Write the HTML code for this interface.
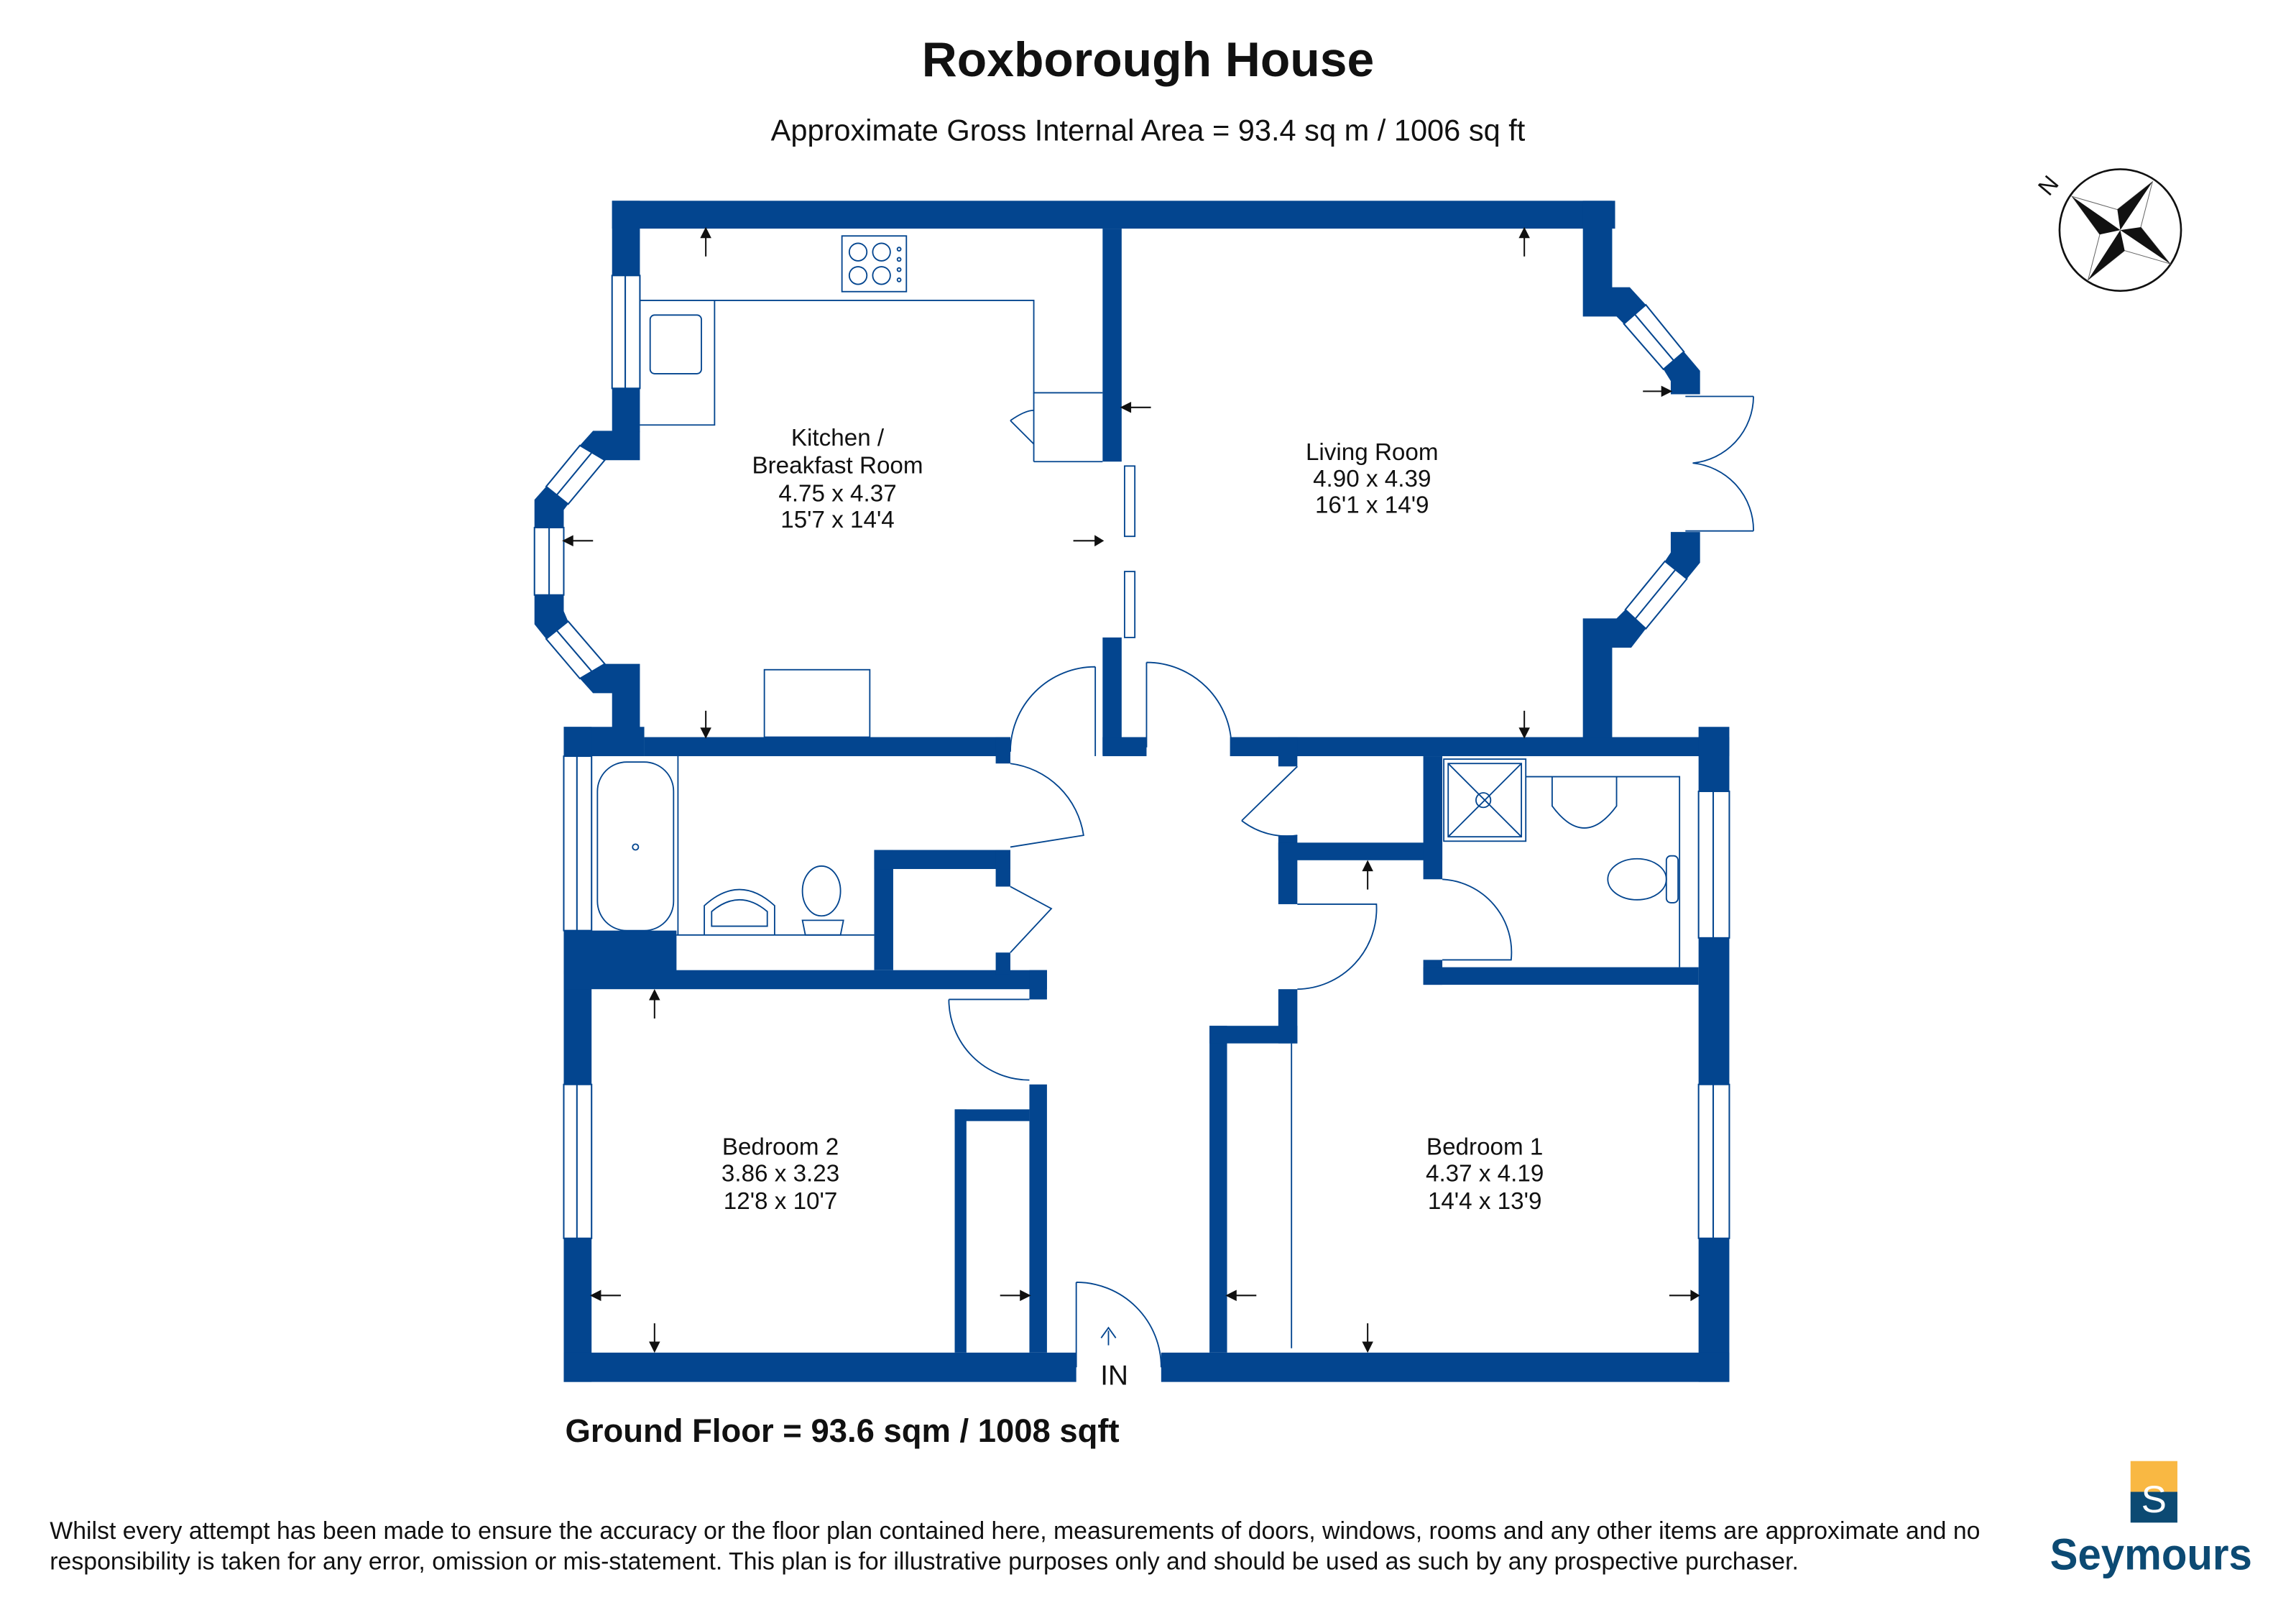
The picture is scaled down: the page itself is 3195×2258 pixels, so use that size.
<!DOCTYPE html>
<html><head><meta charset="utf-8"><style>
html,body{margin:0;padding:0;background:#fff;}
svg{display:block;}
text{font-family:"Liberation Sans",Arial,sans-serif;fill:#111;}
</style></head><body>
<svg width="3195" height="2258" viewBox="0 0 1568 1107.5" preserveAspectRatio="none" xmlns="http://www.w3.org/2000/svg">
<rect width="1568" height="1108" fill="#fff"/>
<text x="784" y="52" font-size="33.3" font-weight="bold" text-anchor="middle">Roxborough House</text>
<text x="784" y="96" font-size="20.4" text-anchor="middle">Approximate Gross Internal Area = 93.4 sq m / 1006 sq ft</text>

<!-- compass -->
<g transform="translate(1448,157)">
<circle r="41.5" fill="#fff" stroke="#111" stroke-width="1.3"/>
<polygon points="-33,-23 -2,-14 22,-33 14,-2 34,23 3,14 -22,34 -14,3" fill="#fff" stroke="#666" stroke-width="0.5"/>
<polygon points="0,0 -33,-23 -14,3" fill="#111"/>
<polygon points="0,0 22,-33 -2,-14" fill="#111"/>
<polygon points="0,0 34,23 14,-2" fill="#111"/>
<polygon points="0,0 -22,34 3,14" fill="#111"/>
<text x="-45" y="-27" font-size="16" font-family="Liberation Serif" text-anchor="middle" transform="rotate(-50 -45 -27)">N</text>
</g>

<g fill="#03458f">
<rect x="418" y="137" width="685" height="19"/>
<rect x="418" y="137" width="19" height="51"/>
<rect x="418" y="265" width="19" height="30"/>
<polygon points="396,304 405,294 437,294 437,314 413,314"/>
<polygon points="365,341 373,332 388,344 385,348 385,360 365,360"/>
<polygon points="365,406 385,406 385,417 388,424 373,436 365,426"/>
<polygon points="396,463 405,473 418,473 418,505 437,505 437,453 413,453"/>
<rect x="753" y="156" width="13" height="159"/>
<rect x="753" y="435" width="13" height="80"/>
<rect x="753" y="503" width="30" height="13"/>
<polygon points="1081,137 1101,137 1101,196 1113,196 1124,208 1109,221 1104,216 1081,216"/>
<polygon points="1150,240 1161,253 1161,269 1141,269 1141,260 1136,252"/>
<polygon points="1141,363 1161,363 1161,384 1152,395 1137,383 1141,377"/>
<polygon points="1081,422 1104,422 1110,416 1124,429 1114,442 1101,442 1101,505 1081,505"/>
<rect x="385" y="496" width="55" height="20"/>
<rect x="440" y="503" width="250" height="13"/>
<rect x="840" y="503" width="341" height="13"/>
<rect x="1160" y="496" width="21" height="44"/>
<rect x="1160" y="640" width="21" height="100"/>
<rect x="1160" y="845" width="21" height="98"/>
<rect x="385" y="496" width="19" height="20"/>
<rect x="385" y="635" width="19" height="105"/>
<rect x="385" y="845" width="19" height="98"/>
<rect x="385" y="635" width="77" height="30"/>
<rect x="385" y="923" width="350" height="20"/>
<rect x="793" y="923" width="388" height="20"/>
<rect x="385" y="662" width="330" height="13"/>
<rect x="703" y="662" width="12" height="20"/>
<rect x="597" y="580" width="13" height="82"/>
<rect x="597" y="580" width="93" height="13"/>
<rect x="680" y="580" width="10" height="25"/>
<rect x="680" y="650" width="10" height="15"/>
<rect x="680" y="503" width="10" height="18"/>
<rect x="703" y="740" width="12" height="183"/>
<rect x="652" y="757" width="8" height="166"/>
<rect x="652" y="757" width="51" height="8"/>
<rect x="873" y="503" width="13" height="20"/>
<rect x="873" y="570" width="13" height="47"/>
<rect x="873" y="575" width="112" height="12"/>
<rect x="972" y="516" width="13" height="84"/>
<rect x="972" y="655" width="13" height="17"/>
<rect x="972" y="660" width="188" height="12"/>
<rect x="873" y="675" width="13" height="37"/>
<rect x="826" y="700" width="12" height="223"/>
<rect x="826" y="700" width="60" height="12"/>
</g>

<g fill="#fff" stroke="#03458f" stroke-width="1">
<rect x="418" y="188" width="19" height="77"/>
<rect x="365" y="360" width="20" height="46"/>
<rect x="385" y="516" width="19" height="119"/>
<rect x="385" y="740" width="19" height="105"/>
<rect x="1160" y="540" width="21" height="100"/>
<rect x="1160" y="740" width="21" height="105"/>
<polygon points="396,304 413,314 388,344 373,332"/>
<polygon points="373,436 388,424 413,453 396,463"/>
<polygon points="1109,221 1124,208 1150,240 1136,252"/>
<polygon points="1137,383 1152,395 1124,429 1110,416"/>
</g>
<g stroke="#03458f" stroke-width="1" fill="none">
<line x1="427" y1="188" x2="427" y2="265"/><line x1="375" y1="360" x2="375" y2="406"/>
<line x1="394" y1="516" x2="394" y2="635"/><line x1="394" y1="740" x2="394" y2="845"/>
<line x1="1170" y1="540" x2="1170" y2="640"/><line x1="1170" y1="740" x2="1170" y2="845"/>
<line x1="404" y1="309" x2="380" y2="338"/>
<line x1="380" y1="430" x2="404" y2="458"/>
<line x1="1116" y1="214" x2="1143" y2="246"/>
<line x1="1144" y1="389" x2="1117" y2="422"/>
</g>

<g stroke="#03458f" stroke-width="0.9" fill="none">
<polyline points="437,205 706,205 706,268 753,268"/>
<polyline points="488,205 488,290 437,290"/>
<line x1="706" y1="268" x2="706" y2="315"/><line x1="706" y1="315" x2="753" y2="315"/>
<rect x="575" y="161" width="44" height="38"/>
<circle cx="586" cy="172" r="6"/><circle cx="602" cy="172" r="6"/><circle cx="586" cy="188" r="6"/><circle cx="602" cy="188" r="6"/>
<circle cx="614" cy="170" r="1.2"/><circle cx="614" cy="177" r="1.2"/><circle cx="614" cy="184" r="1.2"/><circle cx="614" cy="191" r="1.2"/>
<rect x="444" y="215" width="35" height="40" rx="3"/>
<rect x="522" y="457" width="72" height="46"/>
<path d="M690,287 L706,303 M690,287 Q700,280 706,280"/>
<rect x="768" y="318" width="7" height="48"/><rect x="768" y="390" width="7" height="45"/>
<path d="M1151,270.5 L1197.5,270.5 M1151,362.3 L1197.5,362.3"/>
<path d="M1197.5,270.5 A46,46 0 0 1 1156,316 A46,46 0 0 1 1197.5,362.3"/>
<path d="M748,455 L748,516 M748,455 A58,58 0 0 0 690,513"/>
<path d="M783,452 L783,510 M783,452 A58,58 0 0 1 841,510"/>
<rect x="408" y="520" width="52" height="115" rx="20"/>
<circle cx="434" cy="578" r="2"/>
<line x1="463" y1="516" x2="463" y2="638"/>
<line x1="462" y1="638" x2="597" y2="638"/>
<path d="M481,638 L481,618 Q505,596 529,618 L529,638"/>
<path d="M486,632 L486,622 Q505,606 524,622 L524,632 Z"/>
<ellipse cx="561" cy="608" rx="13" ry="17"/><path d="M548,628 L576,628 L574,638 L550,638 Z"/>
<path d="M690,521 A58,58 0 0 1 740,570 L690,578"/>
<path d="M690,605 L718,620 L690,650"/>
<path d="M648,682 L703,682 M648,682 A55,55 0 0 0 703,737"/>
<line x1="655" y1="770" x2="655" y2="920"/>
<path d="M886,523 L848,560 M848,560 A50,50 0 0 0 886,570"/>
<path d="M886,617 L940,617 A55,55 0 0 1 886,675"/>
<path d="M985,600 A50,50 0 0 1 1032,655 L985,655"/>
<rect x="986" y="518" width="56" height="56"/><rect x="989" y="521" width="50" height="50"/>
<line x1="989" y1="521" x2="1039" y2="571"/><line x1="1039" y1="521" x2="989" y2="571"/>
<circle cx="1013" cy="546" r="5"/>
<path d="M1042,530 L1147,530 L1147,660"/>
<path d="M1060,530 L1060,550 Q1082,580 1104,550 L1104,530"/>
<ellipse cx="1118" cy="600" rx="20" ry="14"/><rect x="1138" y="584" width="8" height="32" rx="3"/>
<line x1="882" y1="712" x2="882" y2="920"/>
<path d="M735,875 A58,58 0 0 1 793,933 M735,875 L735,933"/>
<path d="M757,918 L757,908 M752,913 L757,906 L762,913"/>
</g>

<g stroke="#111" stroke-width="1" fill="#111">
<line x1="482" y1="158" x2="482" y2="175"/><polygon points="479,162 485,162 482,156"/>
<line x1="1041" y1="158" x2="1041" y2="175"/><polygon points="1038,162 1044,162 1041,156"/>
<line x1="482" y1="485" x2="482" y2="501"/><polygon points="479,497 485,497 482,503"/>
<line x1="1041" y1="485" x2="1041" y2="501"/><polygon points="1038,497 1044,497 1041,503"/>
<line x1="387" y1="369" x2="405" y2="369"/><polygon points="391,366 391,372 385,369"/>
<line x1="733" y1="369" x2="750" y2="369"/><polygon points="748,366 748,372 753,369"/>
<line x1="768" y1="278" x2="786" y2="278"/><polygon points="772,275 772,281 766,278"/>
<line x1="1122" y1="267" x2="1137" y2="267"/><polygon points="1135,264 1135,270 1141,267"/>
<line x1="447" y1="678" x2="447" y2="695"/><polygon points="444,682 450,682 447,676"/>
<line x1="934" y1="590" x2="934" y2="607"/><polygon points="931,594 937,594 934,588"/>
<line x1="406" y1="884" x2="424" y2="884"/><polygon points="410,881 410,887 404,884"/>
<line x1="683" y1="884" x2="700" y2="884"/><polygon points="697,881 697,887 703,884"/>
<line x1="840" y1="884" x2="858" y2="884"/><polygon points="844,881 844,887 838,884"/>
<line x1="1140" y1="884" x2="1158" y2="884"/><polygon points="1155,881 1155,887 1160,884"/>
<line x1="447" y1="903" x2="447" y2="920"/><polygon points="444,916 450,916 447,922"/>
<line x1="934" y1="903" x2="934" y2="920"/><polygon points="931,916 937,916 934,922"/>
</g>

<g font-size="16.3" text-anchor="middle">
<text x="572" y="304">Kitchen /</text><text x="572" y="323">Breakfast Room</text><text x="572" y="342">4.75 x 4.37</text><text x="572" y="360">15'7 x 14'4</text>
<text x="937" y="314">Living Room</text><text x="937" y="332">4.90 x 4.39</text><text x="937" y="350">16'1 x 14'9</text>
<text x="533" y="788">Bedroom 2</text><text x="533" y="806">3.86 x 3.23</text><text x="533" y="825">12'8 x 10'7</text>
<text x="1014" y="788">Bedroom 1</text><text x="1014" y="806">4.37 x 4.19</text><text x="1014" y="825">14'4 x 13'9</text>
</g>
<text x="761" y="945" font-size="19" text-anchor="middle">IN</text>
<text x="386" y="984" font-size="22.3" font-weight="bold">Ground Floor = 93.6 sqm / 1008 sqft</text>
<text x="34" y="1050" font-size="16.6">Whilst every attempt has been made to ensure the accuracy or the floor plan contained here, measurements of doors, windows, rooms and any other items are approximate and no</text>
<text x="34" y="1071" font-size="16.6">responsibility is taken for any error, omission or mis-statement. This plan is for illustrative purposes only and should be used as such by any prospective purchaser.</text>

<rect x="1455" y="997" width="32" height="21" fill="#f9b843"/>
<rect x="1455" y="1018" width="32" height="21" fill="#0c4a73"/>
<text x="1471" y="1032" font-size="26" font-family="Liberation Serif" text-anchor="middle" style="fill:#fff">S</text>
<text x="1469" y="1071" font-size="30" font-weight="bold" text-anchor="middle" style="fill:#0c4a73" textLength="138" lengthAdjust="spacingAndGlyphs">Seymours</text>
</svg>
</body></html>
